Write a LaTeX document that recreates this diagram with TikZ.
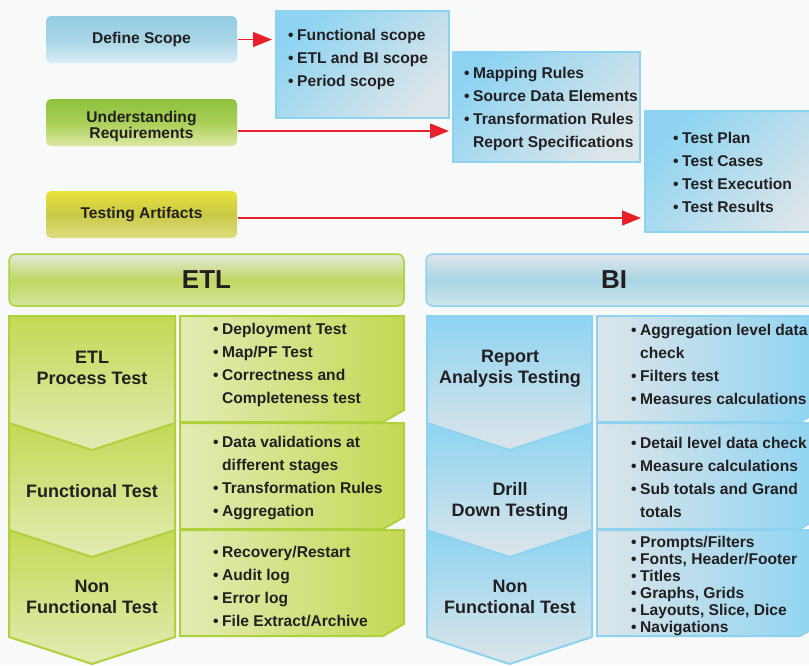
\documentclass[tikz,border=0pt]{standalone}
\usepackage{fontspec}
\setmainfont{Liberation Sans}
\usetikzlibrary{arrows.meta}

\definecolor{paper}{HTML}{F8F9F9}
\definecolor{ink}{HTML}{231F20}
\definecolor{redline}{HTML}{E8202A}
\definecolor{skyedge}{HTML}{8DD3F0}
\definecolor{skydark}{HTML}{8ED4F2}
\definecolor{skylight}{HTML}{DCE5E9}
\definecolor{limeedge}{HTML}{B0D13E}
\definecolor{limedark}{HTML}{C4D955}
\definecolor{limelight}{HTML}{E3EBB4}
\definecolor{scopetop}{HTML}{93CCE3}
\definecolor{scopemid}{HTML}{A8D5E6}
\definecolor{scopebot}{HTML}{D8EDF4}
\definecolor{reqtop}{HTML}{8DC23F}
\definecolor{reqmid}{HTML}{AACF57}
\definecolor{reqbot}{HTML}{DCE8A4}
\definecolor{arttop}{HTML}{E8E23A}
\definecolor{artmid}{HTML}{C9C947}
\definecolor{artbot}{HTML}{DEDD80}
\definecolor{etltop}{HTML}{E4E9DC}
\definecolor{etlmid}{HTML}{BFD863}
\definecolor{etlbot}{HTML}{D3E49A}
\definecolor{bitop}{HTML}{E1E6EA}
\definecolor{bimid}{HTML}{A7D5E4}
\definecolor{bibot}{HTML}{CFE6EE}

\newcommand{\itm}{\makebox[9pt][l]{\textbullet}}
\newcommand{\ind}{\hspace*{9pt}}

\tikzset{
  stepbox/.style={rectangle, rounded corners=5pt, minimum width=191pt, minimum height=47pt,
    inner sep=0pt, align=center, text=ink, font=\bfseries\fontsize{15.6}{16}\selectfont},
  scopebox/.style={rectangle, draw=skyedge, line width=2pt, inner sep=0pt,
    top color=skydark, bottom color=skylight, shading angle=45},
  headbox/.style={rectangle, rounded corners=7pt, line width=1.5pt, minimum width=395pt,
    minimum height=52pt, inner sep=0pt, text=ink, font=\bfseries\fontsize{26}{28}\selectfont},
  listtext/.style={anchor=west, align=left, inner sep=0pt, text=ink,
    font=\bfseries\fontsize{15.6}{23}\selectfont},
  phase/.style={align=center, inner sep=0pt, text=ink, font=\bfseries\fontsize{18}{21}\selectfont},
  etlpanel/.style={draw=limeedge, line width=2pt, top color=limedark, bottom color=limelight},
  etlnote/.style={draw=limeedge, line width=2pt, left color=limelight, right color=limedark},
  bipanel/.style={draw=skyedge, line width=2pt, top color=skydark, bottom color=skylight},
  binote/.style={draw=skyedge, line width=2pt, left color=skylight, right color=skydark},
  redarrow/.style={->, draw=redline, line width=1.4pt, shorten >=3pt, shorten <=1pt}
}

\begin{document}
\begin{tikzpicture}[x=1pt, y=-1pt, >={Triangle[length=19pt,width=15pt]}]
\useasboundingbox (0,0) rectangle (809,665);
\clip (0,0) rectangle (809,665);
\fill[paper] (0,0) rectangle (809,665);

% steps on the left
\node[stepbox, top color=scopetop, bottom color=scopebot, middle color=scopemid] (defscope) at (141.5,39.5) {Define Scope};
\node[stepbox, top color=reqtop, bottom color=reqbot, middle color=reqmid] (undreq) at (141.5,122.5) {\rule{0pt}{19pt}Understanding\\Requirements};
\node[stepbox, top color=arttop, bottom color=artbot, middle color=artmid] (testart) at (141.5,214.5) {Testing Artifacts};

% what each step gives
\node[scopebox, minimum width=173pt, minimum height=107pt] (box1) at (362.5,64.5) {};
\node[scopebox, minimum width=187pt, minimum height=110pt] (box2) at (546.5,107) {};
\node[scopebox, minimum width=185pt, minimum height=121pt] (box3) at (737.5,171.5) {};
\node[listtext] (scopelist) at (288,59.5) {\itm Functional scope\\\itm ETL and BI scope\\\itm Period scope};
\node[listtext] (reqlist) at (464,108.5) {\itm Mapping Rules\\\itm Source Data Elements\\\itm Transformation Rules\\\ind Report Specifications};
\node[listtext] (artlist) at (673,172.5) {\itm Test Plan\\\itm Test Cases\\\itm Test Execution\\\itm Test Results};

\draw[redarrow] (defscope.east) -- (defscope.east -| box1.west);
\draw[redarrow] ([yshift=-8.5pt]undreq.east) -- ([yshift=-8.5pt]undreq.east -| box2.west);
\draw[redarrow] ([yshift=-3.5pt]testart.east) -- ([yshift=-3.5pt]testart.east -| box3.west);

% headers
\node[headbox, draw=limeedge, top color=etltop, bottom color=etlbot, middle color=etlmid] (etlhead) at (206.5,280) {ETL};
\node[headbox, draw=skyedge, top color=bitop, bottom color=bibot, middle color=bimid] (bihead) at (623.5,280) {};
\node[headbox, draw=none, minimum width=0pt] (bititle) at (614,280) {BI};

% ETL column
\foreach \y in {530,423,316}
  \draw[etlpanel] (9,\y) -- (175,\y) -- (175,\y+107) -- (92,\y+134) -- (9,\y+107) -- cycle;
\foreach \y in {316,423,530}
  \draw[etlnote] (180,\y) -- (404,\y) -- (404,\y+94) -- (383,\y+106) -- (180,\y+106) -- cycle;
\node[phase] (etlproc) at (92,368) {ETL\\Process Test};
\node[phase] (etlfunc) at (92,491) {Functional Test};
\node[phase] (etlnon) at (92,596.5) {Non\\Functional Test};
\node[listtext] (etlprocl) at (213,364.5) {\itm Deployment Test\\\itm Map/PF Test\\\itm Correctness and\\\ind Completeness test};
\node[listtext] (etlfuncl) at (213,478) {\itm Data validations at\\\ind different stages\\\itm Transformation Rules\\\itm Aggregation};
\node[listtext] (etlnonl) at (213,586.5) {\itm Recovery/Restart\\\itm Audit log\\\itm Error log\\\itm File Extract/Archive};

% BI column
\foreach \y in {530,423,316}
  \draw[bipanel] (427,\y) -- (592,\y) -- (592,\y+107) -- (509.5,\y+134) -- (427,\y+107) -- cycle;
\foreach \y in {316,423,530}
  \draw[binote] (597,\y) -- (821,\y) -- (821,\y+94) -- (800,\y+106) -- (597,\y+106) -- cycle;
\node[phase] (birep) at (510,368.5) {Report\\Analysis Testing};
\node[phase] (bidrill) at (510,501.5) {Drill\\Down Testing};
\node[phase] (binon) at (510,596.5) {Non\\Functional Test};
\node[listtext] (bireplist) at (631,364.5) {\itm Aggregation level data\\\ind check\\\itm Filters test\\\itm Measures calculations};
\node[listtext] (bidrilll) at (631,477.5) {\itm Detail level data check\\\itm Measure calculations\\\itm Sub totals and Grand\\\ind totals};
\node[listtext, font=\bfseries\fontsize{15.6}{17}\selectfont] (binonl) at (631,585.5) {\itm Prompts/Filters\\\itm Fonts, Header/Footer\\\itm Titles\\\itm Graphs, Grids\\\itm Layouts, Slice, Dice\\\itm Navigations};
\end{tikzpicture}
\end{document}
